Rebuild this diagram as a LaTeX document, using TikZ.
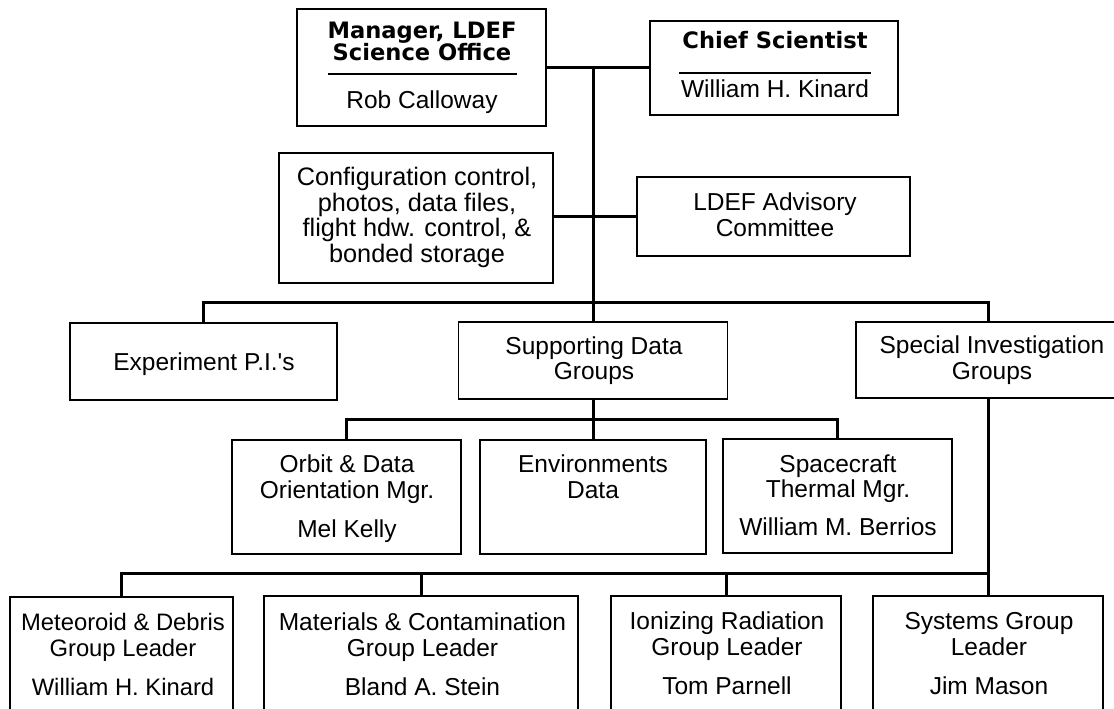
\documentclass[tikz,border=0pt]{standalone}
\usepackage{fontspec}
\setmainfont{Liberation Sans}
\newfontfamily\titlefont{DejaVu Sans}
\newfontfamily\plainfont{Liberation Sans}[Ligatures=NoCommon]
\begin{document}
\begin{tikzpicture}[x=1pt,y=-1pt,
  box/.style={draw, line width=1.8pt, rectangle, inner sep=0pt},
  conn/.style={line width=3pt},
  txt/.style={anchor=base, inner sep=0pt, font=\fontsize{24.5}{26}\selectfont},
  txtl/.style={anchor=base, inner sep=0pt, font=\fontsize{23.8}{26}\selectfont},
  txtc/.style={anchor=base, inner sep=0pt, font=\fontsize{25.3}{26}\selectfont},
  ttl/.style={anchor=base, inner sep=0pt, font=\titlefont\bfseries\fontsize{22.6}{24}\selectfont},
  rulel/.style={line width=1.5pt}]
\useasboundingbox[fill=white] (0,0) rectangle (1114,709);
% boxes
\node[box, minimum width=249pt, minimum height=117pt] (mgr) at (421.5,67.5) {};
\node[box, minimum width=248pt, minimum height=94pt] (chief) at (774,68) {};
\node[box, minimum width=274pt, minimum height=130pt] (conf) at (416,218) {};
\node[box, minimum width=273pt, minimum height=79pt] (adv) at (773.5,216.5) {};
\node[box, minimum width=267pt, minimum height=77pt] (exp) at (203.5,361.5) {};
\node[box, minimum width=269pt, minimum height=77pt] (sup) at (593,360.5) {};
\node[box, minimum width=264pt, minimum height=76pt] (spec) at (988,360) {};
\node[box, minimum width=229pt, minimum height=114pt] (orbit) at (346.5,497) {};
\node[box, minimum width=226pt, minimum height=114pt] (env) at (593,497) {};
\node[box, minimum width=229pt, minimum height=114pt] (craft) at (837.5,496) {};
\node[box, minimum width=223pt, minimum height=143pt] (met) at (121.5,668.5) {};
\node[box, minimum width=314pt, minimum height=143pt] (mat) at (421,667.5) {};
\node[box, minimum width=230pt, minimum height=143pt] (ion) at (726,667.5) {};
\node[box, minimum width=230pt, minimum height=143pt] (sys) at (988,667.5) {};
% bar coordinates
\coordinate (b1) at (0,302);
\coordinate (b3) at (0,419);
\coordinate (b4) at (0,573.5);
% connectors
\draw[conn] (mgr.east) -- (mgr.east -| chief.west);
\draw[conn] (sup.north |- mgr.east) -- (sup.north);
\draw[conn] (adv.west -| conf.east) -- (adv.west);
\draw[conn] (exp.north) -- (exp.north |- b1) -- (spec.north |- b1) -- (spec.north);
\draw[conn] (sup.south) -- (env.north);
\draw[conn] (orbit.north) -- (orbit.north |- b3) -- (craft.north |- b3) -- (craft.north);
\draw[conn] (spec.south) -- (sys.north);
\draw[conn] (met.north) -- (met.north |- b4) -- (sys.north |- b4);
\draw[conn] (mat.north) -- (mat.north |- b4);
\draw[conn] (ion.north) -- (ion.north |- b4);
% texts
\node[ttl] (mgr1) at (422,39) {Manager, LDEF};
\node[ttl] (mgr2) at (422,61) {Science Office};
\draw[rulel] (328,74) -- (517,74);
\node[txt] (mgr3) at (422,108) {Rob Calloway};
\node[ttl] (ch1) at (775,49) {Chief Scientist};
\draw[rulel] (679,73) -- (871,73);
\node[txt] (ch2) at (775,97) {William H. Kinard};
\node[txtc] (cf1) at (417,185) {Configuration control,};
\node[txtc] (cf2) at (417,211) {photos, data files,};
\node[txtc] (cf3) at (417,236) {flight hdw. control, \&};
\node[txtc] (cf4) at (417,262) {bonded storage};
\node[txt] (ad1) at (775,210) {LDEF Advisory};
\node[txt] (ad2) at (775,236) {Committee};
\node[txt] (ex1) at (204,370) {Experiment P.I.\textquotesingle s};
\node[txt] (su1) at (594,354) {Supporting Data};
\node[txt] (su2) at (594,379) {Groups};
\node[txt] (sp1) at (992,353) {Special Investigation};
\node[txt] (sp2) at (992,379) {Groups};
\node[txt] (or1) at (347,472) {Orbit \& Data};
\node[txt] (or2) at (347,498) {Orientation Mgr.};
\node[txt] (or3) at (347,537) {Mel Kelly};
\node[txt] (en1) at (593,472) {Environments};
\node[txt] (en2) at (593,498) {Data};
\node[txt] (cr1) at (838,472) {Spacecraft};
\node[txt] (cr2) at (838,497) {Thermal Mgr.};
\node[txt] (cr3) at (838,535) {William M. Berrios};
\node[txtl] (me1) at (123,630) {Meteoroid \& Debris};
\node[txtl] (me2) at (123,656) {Group Leader};
\node[txtl] (me3) at (123,695) {William H. Kinard};
\node[txt] (ma1) at (422.5,630) {Materials \& Contamination};
\node[txt] (ma2) at (422.5,656) {Group Leader};
\node[txt] (ma3) at (422.5,695) {Bland A. Stein};
\node[txt] (io1) at (727,629) {Ionizing Radiation};
\node[txt] (io2) at (727,655) {Group Leader};
\node[txt] (io3) at (727,694) {Tom Parnell};
\node[txt] (sy1) at (989,629) {Systems Group};
\node[txt] (sy2) at (989,655) {Leader};
\node[txt] (sy3) at (989,694) {Jim Mason};
\end{tikzpicture}
\end{document}
